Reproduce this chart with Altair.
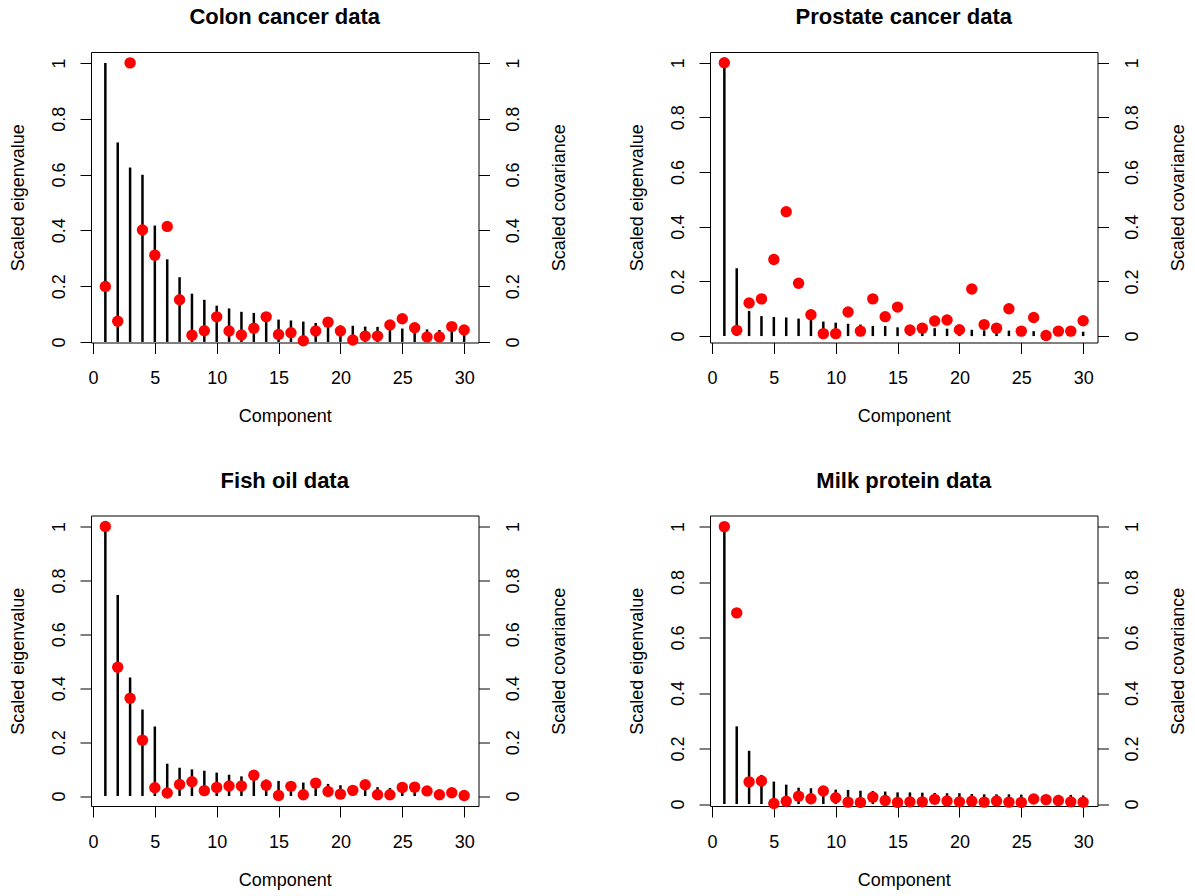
import altair as alt
import pandas as pd

components = list(range(1, 31))

colon_eig = [1.0, 0.715, 0.625, 0.599, 0.417, 0.296, 0.232, 0.173, 0.151, 0.130,
             0.120, 0.108, 0.104, 0.092, 0.080, 0.077, 0.073, 0.068, 0.063, 0.059,
             0.058, 0.055, 0.054, 0.050, 0.048, 0.046, 0.045, 0.043, 0.040, 0.0385]
colon_cov = [0.199, 0.074, 1.0, 0.401, 0.311, 0.414, 0.151, 0.024, 0.040, 0.090,
             0.039, 0.025, 0.049, 0.090, 0.027, 0.033, 0.004, 0.039, 0.071, 0.039,
             0.007, 0.021, 0.021, 0.061, 0.083, 0.051, 0.018, 0.018, 0.055, 0.043]

prostate_eig = [1.0, 0.248, 0.092, 0.073, 0.070, 0.068, 0.064, 0.060, 0.053, 0.049,
                0.045, 0.042, 0.037, 0.037, 0.032, 0.031, 0.029, 0.029, 0.027, 0.025,
                0.023, 0.021, 0.020, 0.020, 0.019, 0.018, 0.017, 0.016, 0.016, 0.0159]
prostate_cov = [1.0, 0.021, 0.121, 0.136, 0.280, 0.455, 0.193, 0.078, 0.009, 0.009,
                0.088, 0.018, 0.136, 0.071, 0.106, 0.022, 0.029, 0.055, 0.059, 0.023,
                0.172, 0.042, 0.029, 0.100, 0.018, 0.068, 0.002, 0.018, 0.018, 0.056]

fish_eig = [1.0, 0.746, 0.440, 0.321, 0.258, 0.120, 0.105, 0.099, 0.094, 0.087,
            0.079, 0.073, 0.068, 0.061, 0.056, 0.052, 0.050, 0.047, 0.045, 0.040,
            0.038, 0.036, 0.033, 0.030, 0.028, 0.025, 0.021, 0.016, 0.010, 0.003]
fish_cov = [1.0, 0.478, 0.363, 0.207, 0.031, 0.011, 0.043, 0.053, 0.020, 0.032,
            0.037, 0.037, 0.077, 0.040, 0.002, 0.036, 0.005, 0.048, 0.017, 0.007,
            0.021, 0.042, 0.005, 0.005, 0.032, 0.033, 0.019, 0.005, 0.012, 0.002]

milk_eig = [1.0, 0.280, 0.192, 0.105, 0.081, 0.070, 0.059, 0.057, 0.054, 0.052,
            0.051, 0.048, 0.047, 0.045, 0.042, 0.042, 0.041, 0.040, 0.039, 0.039,
            0.036, 0.035, 0.035, 0.035, 0.034, 0.034, 0.034, 0.033, 0.033, 0.031]
milk_cov = [1.0, 0.689, 0.080, 0.083, 0.002, 0.010, 0.028, 0.019, 0.047, 0.023,
            0.007, 0.006, 0.025, 0.013, 0.006, 0.008, 0.008, 0.017, 0.011, 0.008,
            0.010, 0.007, 0.011, 0.007, 0.006, 0.018, 0.016, 0.013, 0.008, 0.007]

titles = ["Colon cancer data", "Prostate cancer data", "Fish oil data", "Milk protein data"]
y_domains = [[-0.002, 1.039], [-0.0235, 1.039], [-0.037, 1.041], [-0.007, 1.04]]
x_ticks = [0, 5, 10, 15, 20, 25, 30]
y_ticks = [0, 0.2, 0.4, 0.6, 0.8, 1]

FONT = "Liberation Sans"
FS = 18


def panel(title, eig, cov, ydom):
    df = pd.DataFrame({"comp": components, "eig": eig, "cov": cov})
    xs = alt.Scale(domain=[-0.16, 31.16], nice=False, zero=False)
    ys = alt.Scale(domain=ydom, nice=False, zero=False)
    xaxis = alt.Axis(title="Component", values=x_ticks, format="d", tickSize=11,
                     labelPadding=16, titlePadding=20, grid=False, domain=False)
    left = alt.Axis(title="Scaled eigenvalue", orient="left", values=y_ticks, format="~g",
                    labelAngle=270, labelAlign="center", labelBaseline="bottom",
                    tickSize=11, labelPadding=12, titlePadding=23, titleAngle=270,
                    titleBaseline="bottom", grid=False, domain=False)
    right = alt.Axis(title="Scaled covariance", orient="right", values=y_ticks, format="~g",
                     labelAngle=270, labelAlign="center", labelBaseline="top",
                     tickSize=11, labelPadding=15, titlePadding=28, titleAngle=270,
                     titleBaseline="top", grid=False, domain=False)
    stems = alt.Chart(df).mark_rule(color="black", strokeWidth=2.5).encode(
        x=alt.X("comp:Q", scale=xs, axis=xaxis),
        y=alt.Y("eig:Q", scale=ys, axis=left),
        y2=alt.datum(0),
    )
    pts = alt.Chart(df).mark_circle(color="#FF0000", size=130, opacity=1).encode(
        x=alt.X("comp:Q", scale=xs, axis=xaxis),
        y=alt.Y("cov:Q", scale=ys, axis=right),
    )
    return alt.layer(stems, pts).resolve_axis(y="independent").properties(
        width=387.5, height=290.5,
        title=alt.TitleParams(title, fontSize=22, fontWeight="bold", font=FONT,
                              offset=23, color="black"),
    )


p = [panel(t, e, c, d) for t, e, c, d in zip(
    titles,
    [colon_eig, prostate_eig, fish_eig, milk_eig],
    [colon_cov, prostate_cov, fish_cov, milk_cov],
    y_domains)]

row1 = alt.hconcat(p[0], p[1], spacing=58)
row2 = alt.hconcat(p[2], p[3], spacing=58)
chart = alt.vconcat(row1, row2, spacing=42.5).properties(
    padding={"left": 8, "top": 5, "right": 0, "bottom": 0},
    background="white",
).configure_view(stroke="black", strokeWidth=1).configure_axis(
    labelFont=FONT, titleFont=FONT, labelFontSize=FS, titleFontSize=FS,
    titleFontWeight="normal", labelColor="black", titleColor="black",
    tickColor="black", tickWidth=1,
)

chart.save("out.html", embed_options={"renderer": "svg", "actions": False})
